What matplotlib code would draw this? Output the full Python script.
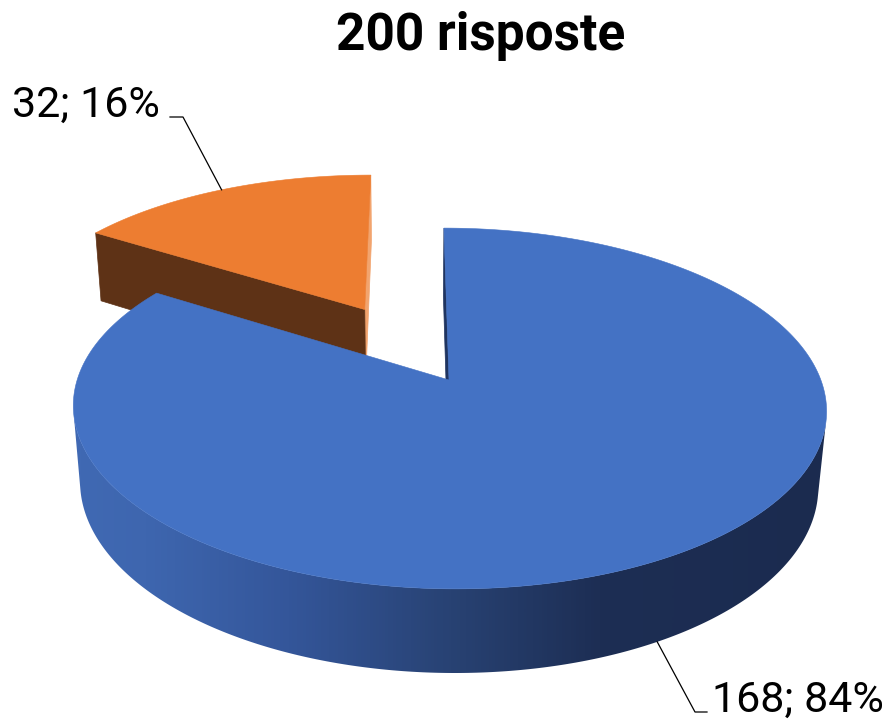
import numpy as np
import matplotlib
matplotlib.use('Agg')
import matplotlib.pyplot as plt
from matplotlib.patches import Polygon
from matplotlib.colors import LinearSegmentedColormap

plt.rcParams['font.family'] = ['Roboto', 'DejaVu Sans']

TITLE = '200 risposte'
counts = [168, 32]
top_colors = ['#4472C4', '#ED7D31']
explode = [0.0, 0.488]

# camera / projection (pixel space of a 893x720 canvas)
CX, CY = 449, 380
SIN, COS = 0.473, 0.881
DIST, FOC = 5.58, 2075.0
CAM_X = -0.1          # camera sits a touch left of the pie centre
H = 0.234

side_grad = LinearSegmentedColormap.from_list(
    'side', [(0.0, '#4069B3'), (0.09, '#3E66AF'), (0.28, '#34569A'),
             (0.50, '#284273'), (0.70, '#1D2E54'), (1.0, '#1B2B4F')])
# (face at start angle, face at end angle) for each slice
face_colors = {0: ('#2A4677', '#1F3460'), 1: ('#F2A46E', '#5E3216')}


def project(X, Z, Y):
    depth = DIST - (Y * SIN + Z * COS)
    px = CX + (X - CAM_X) * FOC / depth + CAM_X * FOC / DIST
    return px, CY - (Y * COS - Z * SIN) * FOC / depth


def rim(theta, X0, Z0, Y, r=1.0):
    t = np.radians(theta)
    return project(X0 + r * np.cos(t), Z0 - r * np.sin(t), Y)


def unit(a):
    t = np.radians(a)
    return np.array([np.cos(t), -np.sin(t)])


fig = plt.figure(figsize=(8.93, 7.2), dpi=100)
ax = fig.add_axes([0, 0, 1, 1])

total = sum(counts)
slices = []
cum = 0
for i, v in enumerate(counts):
    hi = 90 - 360 * cum / total
    lo = hi - 360 * v / total
    mid = (lo + hi) / 2
    X0, Z0 = explode[i] * np.cos(np.radians(mid)), -explode[i] * np.sin(np.radians(mid))
    slices.append(dict(i=i, v=v, lo=lo, hi=hi, mid=mid, X0=X0, Z0=Z0))
    cum += v

cam = np.array([CAM_X, DIST * COS])
z = 1
for s in sorted(slices, key=lambda d: d['Z0']):
    i, lo, hi, X0, Z0 = s['i'], s['lo'], s['hi'], s['X0'], s['Z0']
    rel = cam - np.array([X0, Z0])
    # radial faces
    for a, n_ang, col in ((lo, lo - 90, face_colors[i][0]),
                          (hi, hi + 90, face_colors[i][1])):
        if unit(n_ang) @ rel > 1e-6:
            ax_, ay_ = project(X0, Z0, 0.0)
            bx_, by_ = project(X0, Z0, -H)
            cx_, cy_ = rim(a, X0, Z0, 0.0)
            dx_, dy_ = rim(a, X0, Z0, -H)
            ax.add_patch(Polygon([(ax_, ay_), (cx_, cy_), (dx_, dy_), (bx_, by_)],
                                 closed=True, facecolor=col, edgecolor=col,
                                 lw=0.5, zorder=z))
            z += 1
    # outer wall
    th = np.linspace(lo, hi, 600)
    vis = np.array([unit(t) @ rel > 1.0 for t in th])
    if vis.any():
        tv = th[vis]
        tx, ty = rim(tv, X0, Z0, 0.0)
        bx, by = rim(tv[::-1], X0, Z0, -H)
        poly = Polygon(np.column_stack([np.r_[tx, bx], np.r_[ty, by]]),
                       closed=True, facecolor='none', edgecolor='none', zorder=z)
        ax.add_patch(poly)
        xs = np.clip((np.arange(893) - 79) / (823 - 79), 0, 1)
        grad = side_grad(xs)[None, :, :3]
        im = ax.imshow(grad, extent=(0, 893, 720, 0), aspect='auto',
                       interpolation='bilinear', zorder=z)
        im.set_clip_path(poly)
        z += 1
    # top face
    tx, ty = rim(np.linspace(lo, hi, 600), X0, Z0, 0.0)
    px, py = project(X0, Z0, 0.0)
    ax.add_patch(Polygon(np.column_stack([np.r_[px, tx], np.r_[py, ty]]),
                         closed=True, facecolor=top_colors[i],
                         edgecolor=top_colors[i], lw=0.4, zorder=z))
    z += 1

# data labels with leader lines
blue, orange = slices[0], slices[1]
lbl = [f"{s['v']}; {round(100 * s['v'] / total)}%" for s in slices]

ox, oy = rim(orange['mid'], orange['X0'], orange['Z0'], 0.0)
ax.plot([ox, 183, 170], [oy, 117, 117], color='black', lw=0.9, zorder=z)
ax.text(12, 117, lbl[1], fontsize=31, ha='left', va='baseline', color='black')

bx, by = rim(blue['mid'], blue['X0'], blue['Z0'], -H)
ax.plot([bx, 695, 707], [by, 712, 712], color='black', lw=0.9, zorder=z)
ax.text(712, 712, lbl[0], fontsize=31, ha='left', va='baseline', color='black')

ax.text(481, 50, TITLE, fontsize=37, fontweight='bold', ha='center',
        va='baseline', color='black')

ax.set_xlim(0, 893)
ax.set_ylim(720, 0)
ax.axis('off')
fig.savefig('out.png', dpi=100, facecolor='white')
